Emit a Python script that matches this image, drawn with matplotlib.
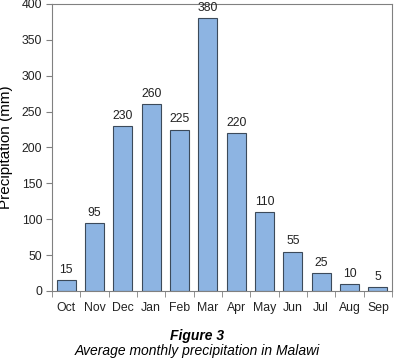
import numpy as np
from matplotlib import pyplot as plt

plt.rcParams['font.family'] = ['Liberation Sans', 'DejaVu Sans']

months = ['Oct', 'Nov', 'Dec', 'Jan', 'Feb', 'Mar', 'Apr', 'May', 'Jun', 'Jul', 'Aug', 'Sep']
rain = [15, 95, 230, 260, 225, 380, 220, 110, 55, 25, 10, 5]

fig = plt.figure(figsize=(3.94, 3.61), dpi=100)
ax = fig.add_axes([0.132, 0.194, 0.863, 0.795])

x = np.arange(len(months))
ax.bar(x, rain, width=0.67, color='#8db4e2', edgecolor='#3c4a5a', linewidth=0.8)
for xi, v in zip(x, rain):
    ax.annotate(str(v), (xi, v), xytext=(0, 3), textcoords='offset points',
                ha='center', va='bottom', fontsize=8.8, color='#222222')

ax.set_xlim(-0.5, len(months) - 0.5)
ax.set_ylim(0, 400)
ax.set_yticks(range(0, 401, 50))
ax.set_xticks(x)
ax.set_xticklabels(months)
ax.set_xticks(np.arange(-0.5, len(months), 1), minor=True)
ax.tick_params(axis='x', which='major', length=0, pad=8, labelsize=8.8, labelcolor='#222222')
ax.tick_params(axis='x', which='minor', length=4, direction='out', color='#808080')
ax.tick_params(axis='y', length=4, direction='out', color='#808080', labelsize=8.8, labelcolor='#222222', pad=3)
for s in ax.spines.values():
    s.set_color('#808080')
    s.set_linewidth(0.8)
ax.set_ylabel('Precipitation (mm)', fontsize=11, labelpad=6)

fig.text(0.5, 0.058, 'Figure 3', ha='center', va='baseline', fontsize=10, fontweight='bold', style='italic')
fig.text(0.5, 0.017, 'Average monthly precipitation in Malawi', ha='center', va='baseline', fontsize=10, style='italic')

fig.savefig('out.png', dpi=100)
